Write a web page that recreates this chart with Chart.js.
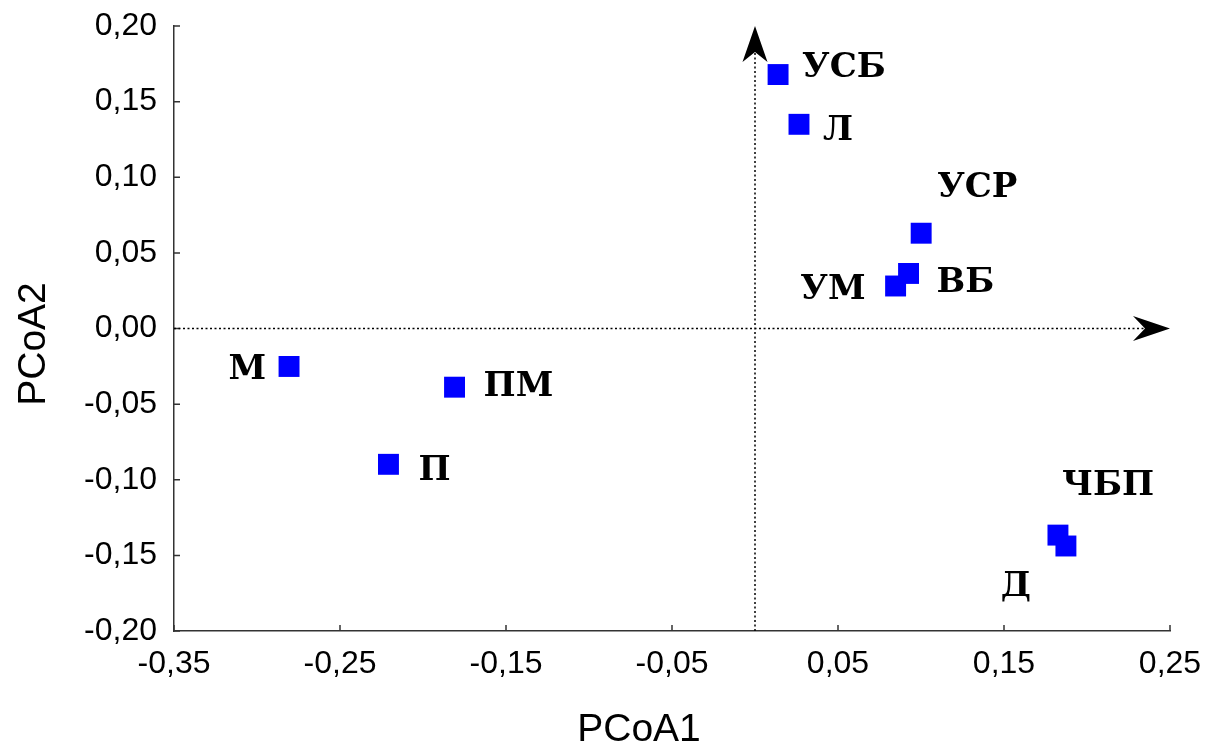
<!DOCTYPE html>
<html><head><meta charset="utf-8">
<script src="https://cdn.jsdelivr.net/npm/chart.js@4.4.1/dist/chart.umd.min.js"></script>
<style>html,body{margin:0;padding:0;background:#fff;} #wrap{width:1215px;height:745px;}</style>
</head><body><div id="wrap"><canvas id="c" width="1215" height="745"></canvas></div>
<script>
const siteLabels = ['УСБ','Л','УСР','ВБ','УМ','М','ПМ','П','ЧБП','Д'];
const pcoa1 = [0.0139, 0.0265, 0.1001, 0.0925, 0.0847, -0.2807, -0.1810, -0.2208, 0.1825, 0.1873];
const pcoa2 = [0.1679, 0.1350, 0.0630, 0.0364, 0.0281, -0.0251, -0.0388, -0.0898, -0.1366, -0.1438];
const xTicks = [-0.35, -0.25, -0.15, -0.05, 0.05, 0.15, 0.25];
const yTicks = [-0.20, -0.15, -0.10, -0.05, 0.00, 0.05, 0.10, 0.15, 0.20];
const xTitle = 'PCoA1';
const yTitle = 'PCoA2';

// label placement (pixel offsets from marker centre to label cap-centre)
const labelStyle = [
  {dx: 24, dy: -10, align: 'left'},
  {dx: 24, dy: 3, align: 'left'},
  {dx: 16, dy: -49, align: 'left'},
  {dx: 28, dy: 6, align: 'left'},
  {dx: -30, dy: 1, align: 'right'},
  {dx: -23, dy: 0, align: 'right'},
  {dx: 29, dy: -4, align: 'left'},
  {dx: 30, dy: 3, align: 'left'},
  {dx: 4, dy: -53, align: 'left'},
  {dx: -35, dy: 38, align: 'right'}
];

const fmt = v => Number(v).toFixed(2).replace('.', ',');
const LABEL_FONT = 'bold 34px "DejaVu Serif"';
const TICK_FONT = {family: '"Liberation Sans", Arial, sans-serif', size: 32};

const decor = {
  id: 'decor',
  beforeDatasetsDraw(chart) {
    const ctx = chart.ctx, ca = chart.chartArea;
    const xs = chart.scales.x, ys = chart.scales.y;
    const x0 = xs.getPixelForValue(0), y0 = ys.getPixelForValue(0);
    ctx.save();
    // inward tick marks
    ctx.strokeStyle = '#333'; ctx.lineWidth = 1.5;
    ctx.beginPath();
    xTicks.forEach(v => { const p = xs.getPixelForValue(v); ctx.moveTo(p, ca.bottom); ctx.lineTo(p, ca.bottom - 6); });
    yTicks.forEach(v => { const p = ys.getPixelForValue(v); ctx.moveTo(ca.left, p); ctx.lineTo(ca.left + 6, p); });
    ctx.stroke();
    // dotted zero lines
    ctx.strokeStyle = '#000'; ctx.lineWidth = 1.5; ctx.setLineDash([2, 2.5]);
    ctx.beginPath();
    ctx.moveTo(ca.left, y0); ctx.lineTo(ca.right - 25, y0);
    ctx.moveTo(x0, ca.bottom); ctx.lineTo(x0, ca.top + 26);
    ctx.stroke();
    ctx.setLineDash([]);
    // arrowheads
    ctx.fillStyle = '#000';
    ctx.beginPath();
    ctx.moveTo(ca.right, y0);
    ctx.lineTo(ca.right - 37, y0 - 12.5);
    ctx.lineTo(ca.right - 25, y0);
    ctx.lineTo(ca.right - 37, y0 + 12.5);
    ctx.closePath(); ctx.fill();
    ctx.beginPath();
    ctx.moveTo(x0, ca.top);
    ctx.lineTo(x0 - 12.5, ca.top + 36);
    ctx.lineTo(x0, ca.top + 26);
    ctx.lineTo(x0 + 12.5, ca.top + 36);
    ctx.closePath(); ctx.fill();
    ctx.restore();
  },
  afterDatasetsDraw(chart) {
    const ctx = chart.ctx, ca = chart.chartArea;
    const meta = chart.getDatasetMeta(0);
    ctx.save();
    ctx.fillStyle = '#000';
    ctx.font = LABEL_FONT;
    ctx.textBaseline = 'alphabetic';
    meta.data.forEach((pt, i) => {
      const s = labelStyle[i];
      ctx.textAlign = s.align;
      ctx.fillText(siteLabels[i], pt.x + s.dx, pt.y + s.dy + 12.4);
    });
    // axis titles
    ctx.font = '39px "Liberation Sans", Arial, sans-serif';
    ctx.textAlign = 'center';
    ctx.fillText(xTitle, ca.left + 465, ca.bottom + 110);
    ctx.save();
    ctx.translate(45, ca.top + 318);
    ctx.rotate(-Math.PI / 2);
    ctx.fillText(yTitle, 0, 0);
    ctx.restore();
    ctx.restore();
  }
};

new Chart(document.getElementById('c'), {
  type: 'scatter',
  data: {
    datasets: [{
      data: pcoa1.map((x, i) => ({x: x, y: pcoa2[i]})),
      pointStyle: 'rect',
      pointRadius: 14.8,
      pointHoverRadius: 14.8,
      backgroundColor: '#0000ff',
      borderColor: '#0000ff',
      borderWidth: 0
    }]
  },
  options: {
    responsive: false,
    animation: false,
    events: [],
    layout: {padding: {left: 0, right: 45, top: 26, bottom: 0}},
    plugins: {legend: {display: false}, tooltip: {enabled: false}, title: {display: false}},
    scales: {
      x: {
        type: 'linear', min: -0.35, max: 0.25,
        afterBuildTicks: s => { s.ticks = xTicks.map(v => ({value: v})); },
        afterFit: s => { s.height = 114; s.paddingLeft = 0; s.paddingRight = 0; },
        grid: {display: true, drawOnChartArea: false, drawTicks: false},
        border: {display: true, color: '#333', width: 1.5},
        ticks: {font: TICK_FONT, color: '#000', padding: 14, maxRotation: 0, autoSkip: false, callback: v => fmt(v)}
      },
      y: {
        type: 'linear', min: -0.20, max: 0.20,
        afterBuildTicks: s => { s.ticks = yTicks.map(v => ({value: v})); },
        afterFit: s => { s.width = 174; s.paddingTop = 0; s.paddingBottom = 0; },
        grid: {display: true, drawOnChartArea: false, drawTicks: false},
        border: {display: true, color: '#333', width: 1.5},
        ticks: {font: TICK_FONT, color: '#000', padding: 17, autoSkip: false, callback: v => fmt(v)}
      }
    }
  },
  plugins: [decor]
});
</script>
</body></html>
